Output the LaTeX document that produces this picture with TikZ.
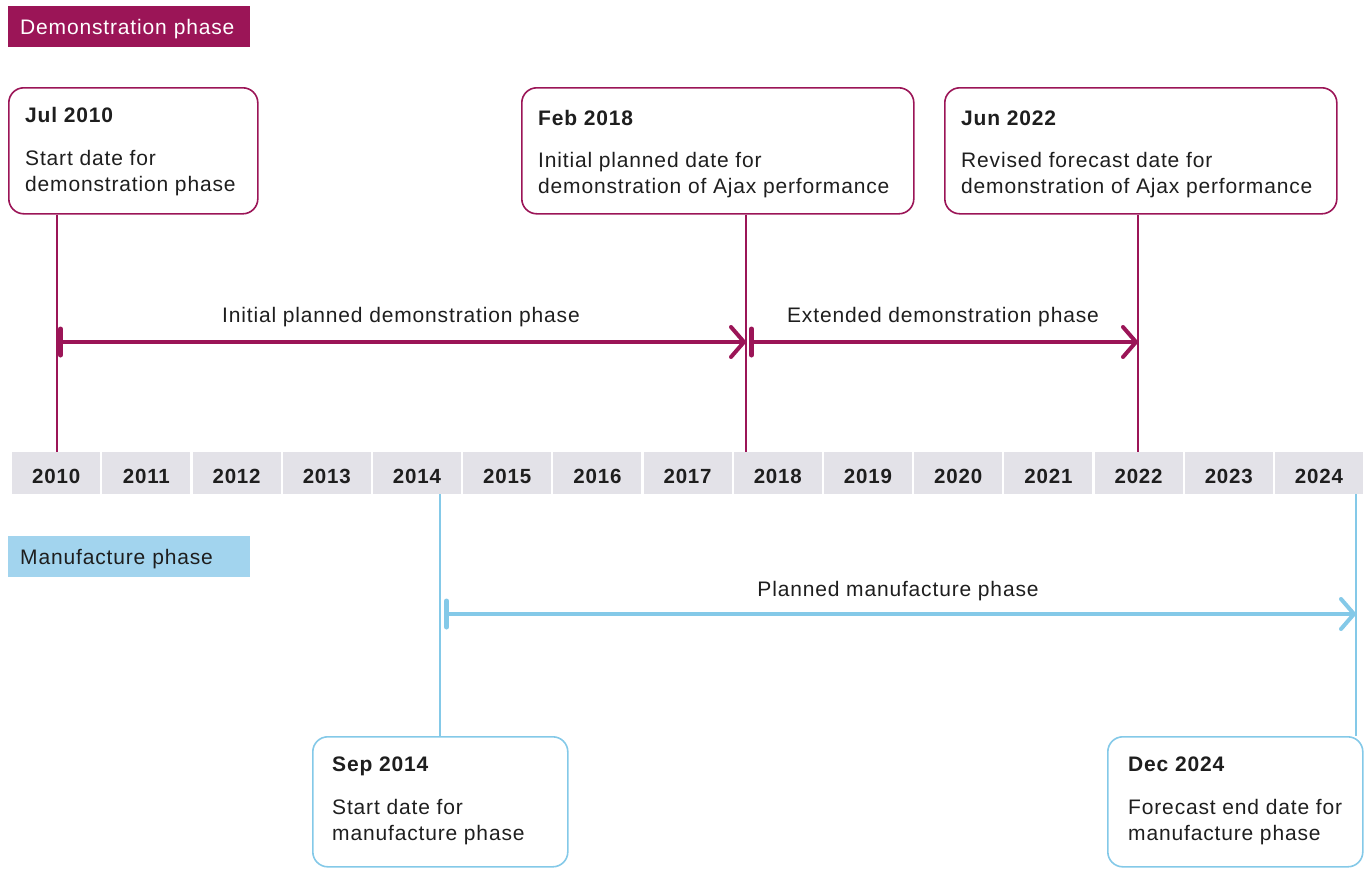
\documentclass[tikz,border=0pt]{standalone}
\usepackage{fontspec}
\setmainfont{Liberation Sans}[LetterSpace=4.0]
\usetikzlibrary{arrows.meta,calc}

\definecolor{demo}{RGB}{155,21,87}
\definecolor{manu}{RGB}{132,201,232}
\definecolor{manufill}{RGB}{162,212,238}
\definecolor{yearfill}{RGB}{227,226,232}
\definecolor{ink}{RGB}{30,30,30}

\tikzset{
  txt/.style={font=\fontsize{21}{26.5}\selectfont, text=ink, inner sep=0pt},
  header/.style={txt, anchor=north west, minimum width=242pt, minimum height=41pt,
    text width=218pt, align=left, inner xsep=12pt, text height=15pt, text depth=0pt},
  eventbox/.style={draw=#1, line width=1.6pt, rounded corners=15pt, anchor=north west,
    inner sep=0pt},
  title/.style={txt, font=\fontsize{21}{26.5}\selectfont\bfseries, anchor=base west},
  body/.style={txt, anchor=north west, align=left},
  yearcell/.style={fill=yearfill, anchor=north west, minimum width=88pt,
    minimum height=42pt, inner sep=0pt, text depth=0pt, text height=20pt,
    font=\fontsize{20.5}{24}\selectfont\bfseries, text=ink},
  stem/.style={draw=#1, line width=2pt},
  span/.style={draw=#1, line width=4pt,
    {Bar[width=26pt, line width=5pt, round]}-{Straight Barb[length=13pt, width=30pt, line width=4pt, round]}},
  spanlabel/.style={txt, anchor=base},
}

\begin{document}
\begin{tikzpicture}[x=1pt, y=-1pt]
\useasboundingbox (0,0) rectangle (1370,870);

% phase headers
\node[header, fill=demo, text=white] (hdemo) at (8,6) {Demonstration phase};
\node[header, fill=manufill] (hmanu) at (8,536) {Manufacture phase};

% year strip
\foreach \i in {0,...,14} {
  \pgfmathtruncatemacro{\yr}{2010+\i}
  \node[yearcell] (y\yr) at (12+90.2*\i,452) {\yr};
}

% points on the year strip where the events sit
\coordinate (pJul10) at (57,452);
\coordinate (pFeb18) at (746,452);
\coordinate (pJun22) at (1138,452);
\coordinate (pSep14) at (440,494);
\coordinate (pDec24) at (1356,494);

% demonstration events
\node[eventbox=demo, minimum width=249pt, minimum height=126pt] (bJul10) at (8,87) {};
\node[title] (tJul10) at (25,122) {Jul 2010};
\node[body] (dJul10) at (25,150) {Start date for\\demonstration phase};

\node[eventbox=demo, minimum width=392pt, minimum height=126pt] (bFeb18) at (521,87) {};
\node[title] (tFeb18) at (538,125) {Feb 2018};
\node[body] (dFeb18) at (538,152) {Initial planned date for\\demonstration of Ajax performance};

\node[eventbox=demo, minimum width=392pt, minimum height=126pt] (bJun22) at (944,87) {};
\node[title] (tJun22) at (961,125) {Jun 2022};
\node[body] (dJun22) at (961,152) {Revised forecast date for\\demonstration of Ajax performance};

% manufacture events
\node[eventbox=manu, minimum width=255pt, minimum height=130pt] (bSep14) at (312,736) {};
\node[title] (tSep14) at (332,771) {Sep 2014};
\node[body] (dSep14) at (332,799) {Start date for\\manufacture phase};

\node[eventbox=manu, minimum width=255pt, minimum height=130pt] (bDec24) at (1107,736) {};
\node[title] (tDec24) at (1128,771) {Dec 2024};
\node[body] (dDec24) at (1128,799) {Forecast end date for\\manufacture phase};

% stems from the boxes to the year strip
\draw[stem=demo] (pJul10 |- bJul10.south) -- (pJul10);
\draw[stem=demo] (pFeb18 |- bFeb18.south) -- (pFeb18);
\draw[stem=demo] (pJun22 |- bJun22.south) -- (pJun22);
\draw[stem=manu] (pSep14) -- (pSep14 |- bSep14.north);
\draw[stem=manu] (pDec24) -- (pDec24 |- bDec24.north);

% phase spans
\coordinate (sJul10) at (58,342);
\coordinate (eFeb18) at (746,342);
\coordinate (sFeb18) at (749,342);
\coordinate (eJun22) at (1138,342);
\coordinate (sSep14) at (444,614);
\coordinate (eDec24) at (1356,614);

\draw[span=demo] (sJul10) -- (eFeb18);
\draw[span=demo] (sFeb18) -- (eJun22);
\draw[span=manu] (sSep14) -- (eDec24);

\node[spanlabel] (lInit) at (401,322) {Initial planned demonstration phase};
\node[spanlabel] (lExt) at (943,322) {Extended demonstration phase};
\node[spanlabel] (lMan) at (898,596) {Planned manufacture phase};
\end{tikzpicture}
\end{document}
